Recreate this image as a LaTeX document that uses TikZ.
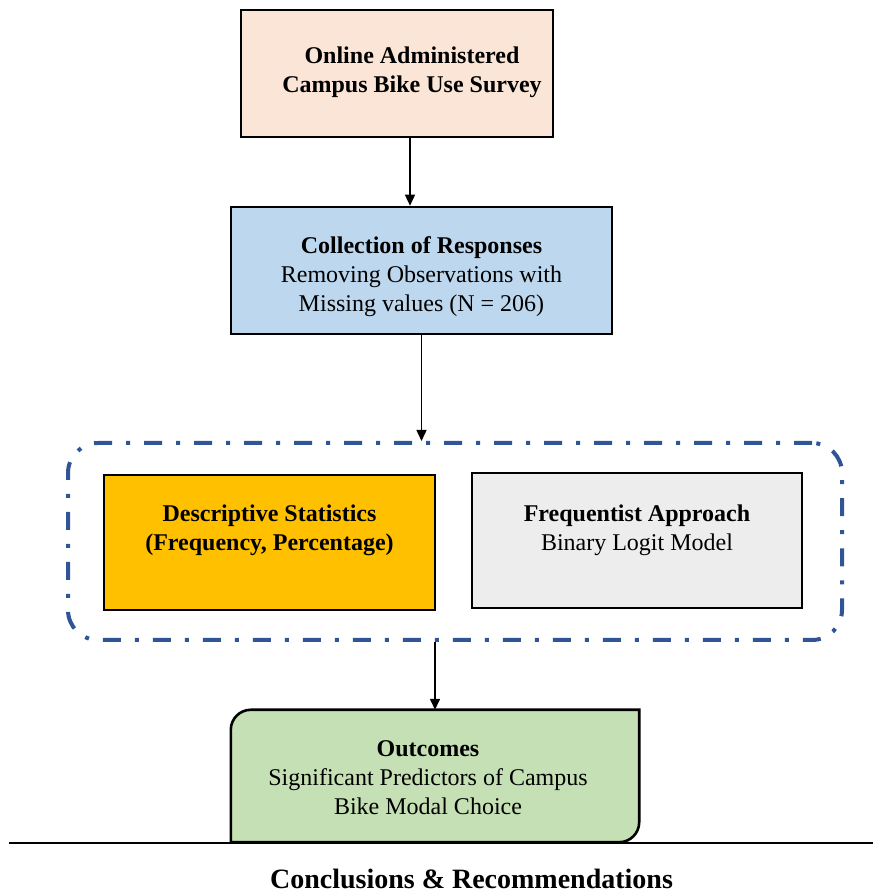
\documentclass[tikz,border=0pt]{standalone}
\usepackage{fontspec}
\setmainfont{Liberation Serif}
\usetikzlibrary{positioning, arrows.meta, calc}
\definecolor{survey}{HTML}{FBE5D6}
\definecolor{collect}{HTML}{BDD7EE}
\definecolor{gold}{HTML}{FFC000}
\definecolor{lightgray}{HTML}{EDEDED}
\definecolor{outgreen}{HTML}{C5E0B4}
\definecolor{frameblue}{HTML}{2F5597}

\begin{document}
\begin{tikzpicture}[
  x=1pt, y=1pt,
  box/.style={rectangle, draw=black, line width=2.6pt, inner sep=0pt},
  txt/.style={align=center, font=\fontsize{24}{29}\selectfont, inner sep=0pt},
  frame/.style={rectangle, draw=frameblue, line width=4pt, rounded corners=30pt,
                dash pattern=on 18pt off 14pt on 4pt off 14pt},
  arr/.style={-{Triangle[width=10pt,length=11pt]}, line width=1.5pt}
]
  \useasboundingbox (0,0) rectangle (873,894);

  % boxes
  \node[box, fill=survey, minimum width=312pt, minimum height=127pt] (survey) at (397,820.5) {};
  \node[txt] (surveyT) at ([xshift=15pt, yshift=1pt]survey.center)
    {\textbf{Online Administered}\\\textbf{Campus Bike Use Survey}};

  \node[box, fill=collect, minimum width=381pt, minimum height=127pt] (collect) at (421.5,623.5) {};
  \node[txt] (collectT) at ([yshift=-6pt]collect.center)
    {\textbf{Collection of Responses}\\Removing Observations with\\Missing values (N = 206)};

  \node[frame, minimum width=774pt, minimum height=197pt] (grp) at (455,352.5) {};

  \node[box, fill=gold, minimum width=331pt, minimum height=135pt] (desc) at (269.5,351.5) {};
  \node[txt] (descT) at ([yshift=12pt]desc.center)
    {\textbf{Descriptive Statistics}\\\textbf{(Frequency, Percentage)}};

  \node[box, fill=lightgray, minimum width=330pt, minimum height=135pt] (freq) at (637,353.5) {};
  \node[txt] (freqT) at ([yshift=10pt]freq.center)
    {\textbf{Frequentist Approach}\\Binary Logit Model};

  \node[minimum width=408pt, minimum height=132pt, inner sep=0pt] (outcomes) at (435,118) {};
  \draw[line width=2.6pt, fill=outgreen] (outcomes.south west)
    -- ([yshift=-20pt]outcomes.north west)
    arc[start angle=180, end angle=90, radius=20pt]
    -- (outcomes.north east)
    -- ([yshift=20pt]outcomes.south east)
    arc[start angle=0, end angle=-90, radius=20pt]
    -- cycle;
  \node[txt] (outcomesT) at ([xshift=-7pt, yshift=-2pt]outcomes.center)
    {\textbf{Outcomes}\\Significant Predictors of Campus\\Bike Modal Choice};

  % base line and closing text
  \coordinate (baseL) at (9,51);
  \coordinate (baseR) at (873,51);
  \draw[line width=2.6pt] (baseL) -- (baseR);
  \node[txt, font=\fontsize{28}{33}\selectfont] (concl) at (471.5,15)
    {\textbf{Conclusions \& Recommendations}};

  % arrows
  \draw[arr] ([xshift=13pt]survey.south) -- ([xshift=13pt]survey.south |- collect.north);
  \draw[arr] (collect.south) -- (collect.south |- grp.north);
  \draw[arr] (grp.south -| outcomes.north) -- (outcomes.north);
\end{tikzpicture}
\end{document}
